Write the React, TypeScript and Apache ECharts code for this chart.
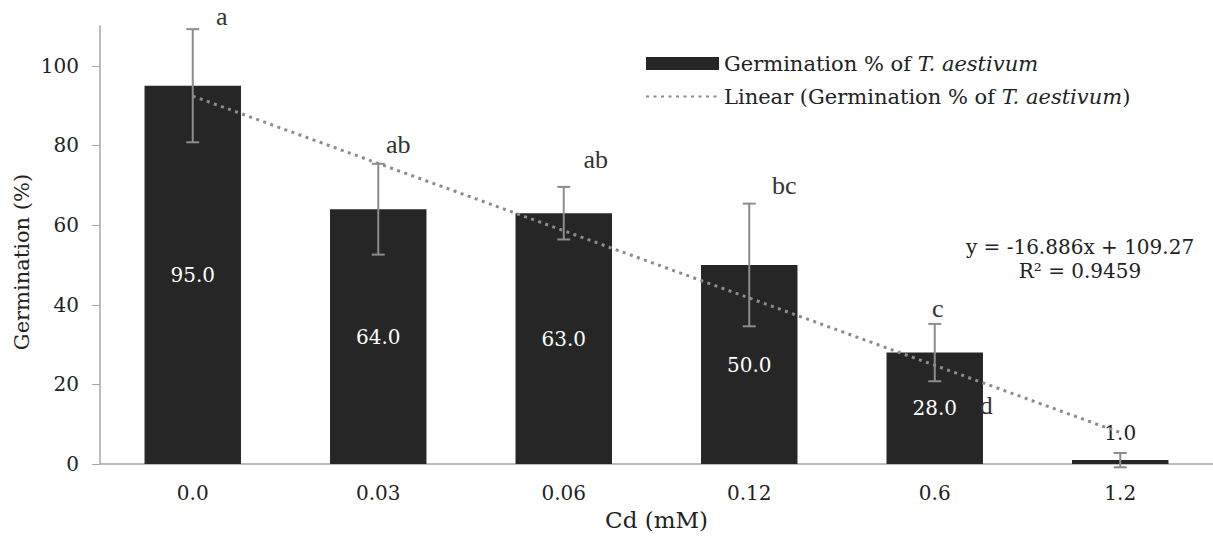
import React, { useEffect, useRef } from "react";
import * as echarts from "echarts";

const categories = ["0.0", "0.03", "0.06", "0.12", "0.6", "1.2"];
const germination = [95.0, 64.0, 63.0, 50.0, 28.0, 1.0];
const errorSD = [14.2, 11.4, 6.6, 15.4, 7.2, 1.8];
const trendValues = [92.4, 75.5, 58.6, 41.7, 24.8, 7.9];
const letters = ["a", "ab", "ab", "bc", "c", "d"];
const letterValues = [112.3, 80.3, 76.5, 70.0, 39.0, 14.8];
const letterOffsets = [29, 20, 32, 35, 3, -134];
const yTicks = [0, 20, 40, 60, 80, 100];

const BAR_NAME = "Germination % of T. aestivum";
const LINE_NAME = "Linear (Germination % of T. aestivum)";
const SERIF = "'Liberation Serif', serif";
const DSERIF = "'DejaVu Serif', serif";

export default function App() {
  const ref = useRef<HTMLDivElement>(null);
  useEffect(() => {
    if (!ref.current) return;
    const chart = echarts.init(ref.current, null, { renderer: "svg" });
    const errData = germination.map((v, i) => [i, v - errorSD[i], v + errorSD[i]]);
    const letterData = letters.map((_, i) => [i, letterValues[i], letterOffsets[i]]);
    chart.setOption({
      animation: false,
      backgroundColor: "#ffffff",
      grid: { left: 100, top: 26, width: 1119, bottom: 70 },
      legend: {
        orient: "vertical",
        left: 640,
        top: 48,
        itemWidth: 73,
        itemHeight: 13,
        itemGap: 12,
        data: [
          { name: BAR_NAME, icon: "rect" },
          { name: LINE_NAME, itemStyle: { color: "rgba(0,0,0,0)", opacity: 0, borderWidth: 0 } },
        ],
        formatter: (name: string) =>
          name === BAR_NAME
            ? "{n|Germination % of }{i|T. aestivum}"
            : "{n|Linear (Germination % of }{i|T. aestivum}{n|)}",
        textStyle: {
          rich: {
            n: { fontFamily: DSERIF, fontSize: 21, color: "#222" },
            i: { fontFamily: DSERIF, fontSize: 21, color: "#222", fontStyle: "italic" },
          },
        },
      },
      xAxis: {
        type: "category",
        data: categories,
        name: "Cd (mM)",
        nameLocation: "middle",
        nameGap: 40,
        nameTextStyle: { fontFamily: DSERIF, fontSize: 23, color: "#222" },
        axisLine: { lineStyle: { color: "#a6a6a6", width: 1.5 } },
        axisTick: { show: false },
        axisLabel: { fontFamily: DSERIF, fontSize: 20, color: "#222", margin: 19 },
      },
      yAxis: {
        type: "value",
        min: 0,
        max: 110,
        interval: 20,
        splitLine: { show: false },
        axisLine: { show: true, lineStyle: { color: "#a6a6a6", width: 1.5 } },
        axisTick: { show: true, length: 8, lineStyle: { color: "#a6a6a6" }, customValues: yTicks },
        axisLabel: { fontFamily: DSERIF, fontSize: 20, color: "#222", margin: 21, customValues: yTicks },
      },
      graphic: [
        {
          type: "text",
          x: 22,
          y: 262,
          rotation: Math.PI / 2,
          style: {
            text: "Germination (%)",
            fontFamily: DSERIF,
            fontSize: 21,
            fill: "#222",
            align: "center",
            verticalAlign: "middle",
          },
        },
        {
          type: "text",
          x: 1080,
          y: 247,
          style: {
            text: "y = -16.886x + 109.27",
            fontFamily: DSERIF,
            fontSize: 20,
            fill: "#222",
            align: "center",
            verticalAlign: "middle",
          },
        },
        {
          type: "text",
          x: 1080,
          y: 271,
          style: {
            text: "R² = 0.9459",
            fontFamily: DSERIF,
            fontSize: 20,
            fill: "#222",
            align: "center",
            verticalAlign: "middle",
          },
        },
      ],
      series: [
        {
          name: BAR_NAME,
          type: "bar",
          barWidth: "52%",
          itemStyle: { color: "#262626" },
          z: 2,
          data: germination.map((v, i) =>
            i === germination.length - 1
              ? { value: v, label: { position: "top", color: "#222", distance: 17 } }
              : v
          ),
          label: {
            show: true,
            position: "inside",
            color: "#ffffff",
            fontFamily: DSERIF,
            fontSize: 20,
            formatter: (p: any) => Number(p.value).toFixed(1),
          },
        },
        {
          name: LINE_NAME,
          type: "line",
          data: trendValues,
          symbol: "none",
          z: 5,
          itemStyle: { color: "#8c8c8c" },
          lineStyle: { color: "#8c8c8c", width: 3, type: [3, 4.5] },
        },
        {
          name: "err",
          type: "custom",
          z: 4,
          data: errData,
          renderItem: (params: any, api: any) => {
            const x = api.value(0);
            const lo = api.coord([x, api.value(1)]);
            const hi = api.coord([x, api.value(2)]);
            const w = 6.5;
            const st = { stroke: "#8c8c8c", lineWidth: 2 };
            return {
              type: "group",
              children: [
                { type: "line", shape: { x1: hi[0], y1: hi[1], x2: lo[0], y2: lo[1] }, style: st },
                { type: "line", shape: { x1: hi[0] - w, y1: hi[1], x2: hi[0] + w, y2: hi[1] }, style: st },
                { type: "line", shape: { x1: lo[0] - w, y1: lo[1], x2: lo[0] + w, y2: lo[1] }, style: st },
              ],
            };
          },
        },
        {
          name: "letters",
          type: "custom",
          z: 6,
          clip: false,
          data: letterData,
          renderItem: (params: any, api: any) => {
            const p = api.coord([api.value(0), api.value(1)]);
            return {
              type: "text",
              x: p[0] + api.value(2),
              y: p[1],
              style: {
                text: letters[params.dataIndex],
                fontFamily: SERIF,
                fontSize: 26,
                fill: "#333",
                align: "center",
                verticalAlign: "middle",
              },
            };
          },
        },
      ],
    });
    return () => chart.dispose();
  }, []);
  return (
    <div
      ref={ref}
      style={{ position: "fixed", left: 0, top: 0, width: 1213, height: 536, background: "#fff" }}
    />
  );
}
